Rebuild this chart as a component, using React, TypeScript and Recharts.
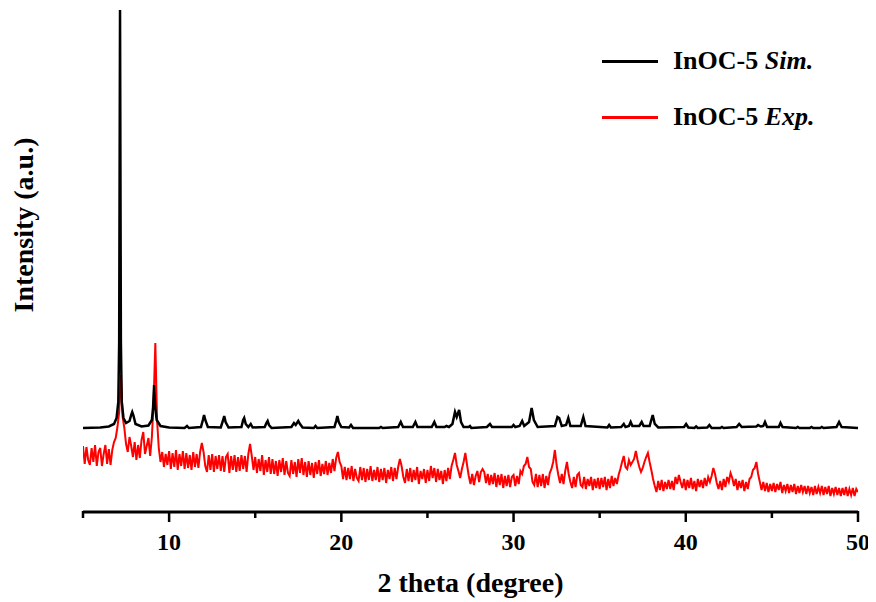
import React from 'react';
import { LineChart, Line, XAxis, YAxis, Legend, Label } from 'recharts';

// Experimental pattern: sampled every 0.1 degree starting at 5.0
const expStart = 5;
const expStep = 0.1;
const expValues: number[] = [
  66, 48, 65, 52, 47, 64, 50, 67, 46, 60, // 5
  64, 46, 58, 67, 48, 63, 47, 62, 70, 74, // 6
  85, 100, 137, 95, 84, 68, 60, 75, 66, 55, // 7
  70, 52, 67, 54, 72, 80, 58, 66, 74, 56, // 8
  75, 110, 169, 92, 64, 50, 60, 45, 58, 47, // 9
  61, 43, 59, 45, 62, 42, 58, 46, 61, 43, // 10
  59, 44, 57, 42, 60, 45, 58, 44, 60, 69, // 11
  60, 46, 40, 57, 42, 58, 40, 56, 43, 57, // 12
  41, 56, 40, 55, 58, 39, 56, 42, 57, 40, // 13
  55, 41, 57, 43, 56, 40, 58, 68, 56, 42, // 14
  55, 39, 53, 41, 57, 37, 52, 40, 55, 38, // 15
  53, 38, 51, 36, 52, 40, 54, 37, 51, 39, // 16
  36, 52, 38, 50, 35, 53, 39, 54, 37, 50, // 17
  35, 51, 37, 49, 34, 50, 38, 52, 36, 48, // 18
  38, 51, 37, 49, 39, 53, 41, 54, 60, 50, // 19
  46, 33, 45, 32, 44, 33, 46, 31, 43, 34, // 20
  31, 45, 32, 44, 30, 43, 32, 46, 31, 42, // 21
  32, 45, 30, 43, 32, 44, 29, 42, 33, 45, // 22
  31, 44, 33, 45, 53, 46, 35, 29, 43, 31, // 23
  44, 30, 42, 32, 45, 28, 41, 33, 43, 29, // 24
  42, 31, 46, 34, 44, 30, 43, 32, 41, 28, // 25
  42, 31, 44, 33, 46, 52, 59, 47, 41, 34, // 26
  43, 50, 59, 47, 36, 28, 38, 27, 36, 41, // 27
  30, 40, 43, 40, 29, 38, 27, 37, 28, 39, // 28
  25, 37, 27, 38, 24, 36, 26, 37, 25, 35, // 29
  37, 26, 36, 28, 41, 38, 46, 48, 55, 45, // 30
  43, 30, 27, 38, 25, 37, 26, 38, 24, 36, // 31
  27, 39, 43, 50, 62, 47, 37, 29, 38, 28, // 32
  41, 50, 38, 30, 24, 35, 25, 37, 39, 27, // 33
  25, 35, 23, 33, 26, 35, 22, 33, 24, 34, // 34
  23, 34, 25, 35, 22, 33, 24, 36, 26, 34, // 35
  28, 37, 43, 50, 56, 45, 43, 52, 47, 50, // 36
  53, 61, 52, 45, 40, 44, 50, 55, 59, 50, // 37
  42, 33, 26, 20, 31, 22, 32, 21, 30, 23, // 38
  32, 23, 31, 22, 35, 28, 37, 30, 24, 33, // 39
  22, 32, 24, 34, 23, 31, 21, 33, 25, 32, // 40
  24, 34, 26, 35, 30, 36, 44, 38, 29, 23, // 41
  31, 22, 33, 25, 35, 30, 39, 34, 26, 33, // 42
  22, 31, 24, 32, 21, 30, 23, 33, 35, 42, // 43
  44, 50, 38, 30, 22, 30, 21, 29, 20, 28, // 44
  21, 29, 20, 28, 22, 30, 19, 27, 21, 28, // 45
  19, 27, 20, 28, 18, 26, 19, 27, 20, 26, // 46
  18, 26, 19, 25, 17, 26, 18, 25, 19, 26, // 47
  17, 25, 18, 26, 16, 24, 18, 25, 17, 24, // 48
  16, 24, 17, 25, 16, 23, 17, 24, 16, 23, // 49
  20, // 50
];

// Simulated pattern: [2theta, intensity]
const simPoints: [number, number][] = [
  [5.0, 84], [6.0, 84.5], [6.5, 85.5], [6.8, 88], [6.95, 94], [7.05, 110], [7.1, 170], [7.15, 502],
  [7.2, 170], [7.25, 110], [7.35, 94], [7.5, 89], [7.7, 91], [7.8, 97], [7.86, 100], [7.92, 97],
  [8.05, 88], [8.4, 85.5], [8.8, 86.5], [9.0, 92], [9.07, 105], [9.13, 127], [9.19, 105], [9.28, 92],
  [9.5, 86], [10.0, 84.5], [10.9, 84], [11.04, 86], [11.15, 84], [11.85, 85], [11.96, 92], [12.03, 97],
  [12.1, 92], [12.25, 85], [13.0, 84.5], [13.12, 91], [13.2, 96], [13.28, 90], [13.45, 84.5],
  [14.2, 85], [14.3, 92], [14.36, 94], [14.45, 88], [14.6, 85], [14.74, 88], [14.85, 84.5],
  [15.55, 85], [15.65, 89], [15.72, 91], [15.8, 87], [15.95, 84], [17.1, 85], [17.25, 89], [17.35, 87],
  [17.5, 91], [17.6, 88], [17.75, 84.5], [18.4, 84], [18.5, 86], [18.6, 84], [19.6, 85], [19.7, 91],
  [19.77, 96], [19.85, 90], [20.0, 85], [20.45, 84.5], [20.56, 87], [20.68, 84], [22.2, 84], [22.3, 85],
  [22.4, 84], [23.3, 85], [23.45, 90], [23.58, 85], [24.15, 85], [24.3, 90], [24.42, 85], [25.25, 85],
  [25.4, 90], [25.52, 85], [26.0, 85], [26.1, 86], [26.25, 85], [26.45, 88], [26.6, 100], [26.7, 95],
  [26.84, 102], [26.95, 90], [27.1, 85], [27.4, 85], [27.47, 86], [27.55, 84], [28.45, 85], [28.63, 88],
  [28.75, 85], [29.9, 85], [30.0, 87], [30.1, 85], [30.35, 86], [30.5, 91], [30.62, 86], [30.9, 90],
  [31.05, 104], [31.18, 92], [31.4, 85], [32.4, 86], [32.55, 95], [32.65, 94], [32.8, 86], [33.05, 87],
  [33.18, 94], [33.3, 86], [33.9, 86], [34.05, 95], [34.18, 86], [35.45, 84.5], [35.55, 87], [35.65, 84.5],
  [36.25, 85], [36.4, 88], [36.5, 85], [36.7, 86], [36.8, 90], [36.9, 86], [37.3, 86], [37.44, 90],
  [37.55, 86], [37.9, 86], [38.08, 97], [38.2, 88], [38.4, 84.5], [39.9, 85], [40.02, 88], [40.15, 84.5],
  [40.5, 84], [40.6, 85.5], [40.7, 84], [41.25, 84.5], [41.37, 87], [41.5, 84], [42.0, 84], [42.1, 85],
  [42.2, 84], [42.95, 85], [43.1, 88], [43.25, 85], [44.1, 85.5], [44.2, 87], [44.35, 85.5], [44.5, 86],
  [44.6, 90], [44.72, 85], [45.4, 85], [45.5, 89], [45.62, 85], [46.4, 84], [46.5, 85], [46.6, 84],
  [47.2, 84], [47.3, 85], [47.4, 84], [47.8, 84], [47.9, 85], [48.0, 84], [48.75, 85], [48.9, 90],
  [49.05, 85], [50.0, 84],
];

const xTicks = [5, 10, 15, 20, 25, 30, 35, 40, 45, 50];
const xLabeledTicks = [10, 20, 30, 40, 50];
const seriesNames = ['InOC-5', 'InOC-5'];
const seriesTags = ['Sim.', 'Exp.'];
const seriesColors = ['#000000', '#ff0000'];
const xTitle = '2 theta (degree)';
const yTitle = 'Intensity (a.u.)';

const FONT = '"Liberation Serif", "Times New Roman", Times, serif';

const expData = expValues.map((v, i) => ({ x: +(expStart + i * expStep).toFixed(2), y: v }));
const simData = simPoints.map(([x, y]) => ({ x, y }));

function XTick(props: any) {
  const { x, y, payload } = props;
  const v = payload.value;
  const labeled = xLabeledTicks.includes(v);
  return (
    <g>
      <line x1={x} x2={x} y1={y - 1} y2={y + (labeled ? 10 : 6)} stroke="#000" strokeWidth={2.5} />
      {labeled && (
        <text x={x} y={y + 38} textAnchor="middle" fontFamily={FONT} fontWeight="bold" fontSize={24} fill="#000">
          {v}
        </text>
      )}
    </g>
  );
}

function XTitle(props: any) {
  const vb = props.viewBox || {};
  return (
    <text
      x={vb.x + vb.width / 2}
      y={vb.y + 80}
      textAnchor="middle"
      fontFamily={FONT}
      fontWeight="bold"
      fontSize={28}
      fill="#000"
    >
      {xTitle}
    </text>
  );
}

function YTitle() {
  const cx = 25;
  const cy = 217;
  return (
    <text
      x={cx}
      y={cy}
      transform={`rotate(-90, ${cx}, ${cy})`}
      textAnchor="middle"
      fontFamily={FONT}
      fontWeight="bold"
      fontSize={28}
      fill="#000"
    >
      {yTitle}
    </text>
  );
}

function LegendBox() {
  return (
    <div style={{ fontFamily: FONT, fontWeight: 'bold', fontSize: 26, color: '#000' }}>
      {seriesNames.map((n, i) => (
        <div key={i} style={{ display: 'flex', alignItems: 'center', height: 56 }}>
          <div style={{ width: 56, height: 3, background: seriesColors[i], marginRight: 15 }} />
          <span style={{ lineHeight: 1 }}>
            {n} <i>{seriesTags[i]}</i>
          </span>
        </div>
      ))}
    </div>
  );
}

export default function App() {
  return (
    <LineChart width={868} height={594} margin={{ top: 2, right: 18, left: 0, bottom: 60 }}>
      <XAxis
        dataKey="x"
        type="number"
        domain={[5, 50]}
        ticks={xTicks}
        allowDataOverflow
        interval={0}
        tickSize={0}
        tickMargin={0}
        tickLine={false}
        axisLine={{ stroke: '#000', strokeWidth: 3 }}
        tick={<XTick />}
        height={30}
      >
        <Label content={<XTitle />} />
      </XAxis>
      <YAxis
        type="number"
        domain={[0, 502]}
        allowDataOverflow
        axisLine={false}
        tick={false}
        tickLine={false}
        width={75}
      >
        <Label content={<YTitle />} />
      </YAxis>
      <Legend
        layout="horizontal"
        verticalAlign="middle"
        align="center"
        content={<LegendBox />}
        wrapperStyle={{ left: 594, top: 25, width: 260 }}
      />
      <Line
        data={expData}
        dataKey="y"
        name="InOC-5 Exp."
        stroke="#ff0000"
        strokeWidth={2}
        dot={false}
        type="linear"
        isAnimationActive={false}
      />
      <Line
        data={simData}
        dataKey="y"
        name="InOC-5 Sim."
        stroke="#000000"
        strokeWidth={2.5}
        dot={false}
        type="linear"
        isAnimationActive={false}
      />
    </LineChart>
  );
}
